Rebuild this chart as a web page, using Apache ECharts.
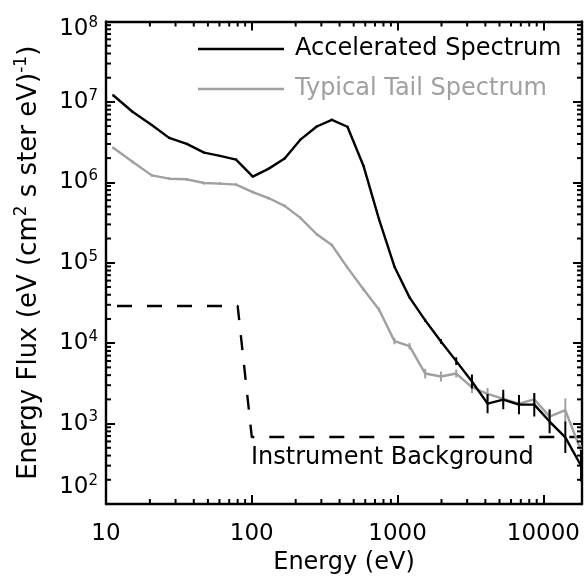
<!DOCTYPE html>
<html><head><meta charset="utf-8">
<script src="https://cdn.jsdelivr.net/npm/echarts@6/dist/echarts.min.js"></script>
<style>html,body{margin:0;padding:0;background:#fff}#c{width:585px;height:583px}</style>
</head><body><div id="c"></div>
<script>
// ---- data ----
const energies = [11.2, 15.2, 20.6, 27.1, 35.8, 47.1, 60.6, 78.0, 101.6, 130, 168, 214.5, 279, 354, 453, 583, 747, 952, 1207, 1547, 1983, 2525, 3236, 4141, 5305, 6800, 8660, 11030, 14140, 18120];
const acceleratedFlux = [1.21e7, 7.55e6, 5.17e6, 3.57e6, 3.01e6, 2.34e6, 2.13e6, 1.92e6, 1.18e6, 1.47e6, 1.98e6, 3.37e6, 4.95e6, 5.98e6, 4.91e6, 1.61e6, 3.44e5, 8.94e4, 3.71e4, 1.92e4, 1.05e4, 5.98e3, 3.34e3, 1.77e3, 1.99e3, 1.72e3, 1.72e3, 1.06e3, 675, 299];
const acceleratedErrFactor = [1.03, 1.03, 1.03, 1.03, 1.03, 1.03, 1.03, 1.03, 1.03, 1.03, 1.03, 1.03, 1.03, 1.03, 1.03, 1.03, 1.03, 1.03, 1.03, 1.05, 1.07, 1.12, 1.22, 1.32, 1.32, 1.32, 1.40, 1.40, 1.57, 1.57];
const tailFlux = [2.69e6, 1.80e6, 1.22e6, 1.11e6, 1.09e6, 9.8e5, 9.64e5, 9.37e5, 7.55e5, 6.38e5, 5.1e5, 3.64e5, 2.26e5, 1.66e5, 8.7e4, 4.69e4, 2.6e4, 1.06e4, 9.19e3, 4.19e3, 3.85e3, 4.19e3, 2.83e3, 2.34e3, 2.03e3, 1.77e3, 2.0e3, 1.22e3, 1.47e3, 455];
const tailErrFactor = [1.04, 1.04, 1.04, 1.04, 1.04, 1.04, 1.04, 1.04, 1.04, 1.04, 1.04, 1.04, 1.04, 1.04, 1.04, 1.05, 1.06, 1.09, 1.09, 1.15, 1.15, 1.12, 1.18, 1.18, 1.18, 1.18, 1.18, 1.25, 1.40, 1.18];
const backgroundEnergy = [10, 80, 100, 18400];
const backgroundFlux = [2.9e4, 2.9e4, 680, 680];
const xRange = [10, 18400];
const yRange = [1e2, 1e8];
const xMajorTicks = [10, 100, 1000, 10000];
const yMajorTicks = [1e2, 1e3, 1e4, 1e5, 1e6, 1e7, 1e8];
const seriesNames = ['Accelerated Spectrum', 'Typical Tail Spectrum', 'Instrument Background'];

// ---- build ----
const FONT = 'DejaVu Sans';
const BLACK = '#000000', GRAY = '#a0a0a0';
const LW = 2.4;
function minorTicks(majors, lo, hi) {
  const out = [];
  majors.forEach(m => { for (let k = 2; k <= 9; k++) { const v = m * k; if (v > lo && v < hi) out.push(v); } });
  return out;
}
const xMinor = minorTicks(xMajorTicks, xRange[0], xRange[1]);
const yMinor = minorTicks(yMajorTicks, yRange[0], yRange[1]);
const pair = (xs, ys) => xs.map((x, i) => [x, ys[i]]);
const errData = (xs, ys, f) => xs.map((x, i) => [x, ys[i] / f[i], ys[i] * f[i]]);

function errRender(color) {
  return function (params, api) {
    const a = api.coord([api.value(0), api.value(1)]);
    const b = api.coord([api.value(0), api.value(2)]);
    return { type: 'line', shape: { x1: a[0], y1: a[1], x2: b[0], y2: b[1] }, style: { stroke: color, lineWidth: 2 } };
  };
}
const MINOR = 5;
function xMinorRender(params, api) {
  const v = api.value(0);
  const b = api.coord([v, yRange[0]]), t = api.coord([v, yRange[1]]);
  return { type: 'group', children: [
    { type: 'line', shape: { x1: b[0], y1: b[1], x2: b[0], y2: b[1] - MINOR }, style: { stroke: BLACK, lineWidth: 2 } },
    { type: 'line', shape: { x1: t[0], y1: t[1], x2: t[0], y2: t[1] + MINOR }, style: { stroke: BLACK, lineWidth: 2 } }
  ]};
}
function yMinorRender(params, api) {
  const v = api.value(1);
  const l = api.coord([xRange[0], v]), r = api.coord([xRange[1], v]);
  return { type: 'group', children: [
    { type: 'line', shape: { x1: l[0], y1: l[1], x2: l[0] + MINOR, y2: l[1] }, style: { stroke: BLACK, lineWidth: 2 } },
    { type: 'line', shape: { x1: r[0], y1: r[1], x2: r[0] - MINOR, y2: r[1] }, style: { stroke: BLACK, lineWidth: 2 } }
  ]};
}

const axisLineStyle = { show: true, lineStyle: { color: BLACK, width: 2.4 } };
const majorTick = { show: true, inside: true, length: 9, lineStyle: { color: BLACK, width: 2 } };
const xAxisBase = { type: 'log', logBase: 10, min: xRange[0], max: xRange[1], axisLine: axisLineStyle, axisTick: majorTick, splitLine: { show: false } };
const yAxisBase = { type: 'log', logBase: 10, min: yRange[0], max: yRange[1], axisLine: axisLineStyle, axisTick: majorTick, splitLine: { show: false } };
const tb = { fontSize: 23, lineHeight: 26, fontFamily: FONT, color: BLACK, verticalAlign: 'middle' };
const ts = { fontSize: 15, lineHeight: 15, fontFamily: FONT, color: BLACK, verticalAlign: 'middle' };
const supRich = {
  nb: Object.assign({}, tb),
  ns: Object.assign({}, ts, { padding: [0, 0, 12, 0] }),
  tb: Object.assign({}, tb, { padding: [16, 0, 0, 0] }),
  ts: Object.assign({}, ts, { padding: [16, 0, 12, 0] }),
  mb: Object.assign({}, tb, { padding: [0, 0, 34, 0] }),
  ms: Object.assign({}, ts, { padding: [0, 0, 46, 0] })
};

const option = {
  animation: false,
  backgroundColor: '#ffffff',
  grid: { left: 106, right: 3, top: 12, bottom: 79, containLabel: false },
  legend: {
    orient: 'vertical', left: 193, top: 32, itemGap: 16, itemWidth: 86, itemHeight: 2.4, icon: 'rect',
    textStyle: { fontSize: 24, lineHeight: 24, fontFamily: FONT, padding: [0, 0, 0, 6] },
    data: [
      { name: seriesNames[0], textStyle: { color: BLACK } },
      { name: seriesNames[1], textStyle: { color: GRAY } }
    ],
    selectedMode: false
  },
  xAxis: [
    Object.assign({}, xAxisBase, {
      position: 'bottom',
      name: 'Energy (eV)', nameLocation: 'middle', nameGap: 44,
      nameTextStyle: { fontSize: 24, fontFamily: FONT, color: BLACK },
      axisLabel: { show: true, margin: 19, fontSize: 23, fontFamily: FONT, color: BLACK, showMaxLabel: false,
        formatter: v => String(Math.round(v)) }
    }),
    Object.assign({}, xAxisBase, { position: 'top', axisLabel: { show: false } })
  ],
  yAxis: [
    Object.assign({}, yAxisBase, {
      position: 'left',
      name: '{n|Energy Flux (eV (cm}{sup|2}{n| s ster eV)}{sup|-1}{n|)}', nameLocation: 'middle', nameGap: 62, nameRotate: 90,
      nameTextStyle: { fontSize: 26, fontFamily: FONT, color: BLACK,
        rich: {
          n: { fontSize: 26, lineHeight: 30, fontFamily: FONT, color: BLACK, verticalAlign: 'middle' },
          sup: { fontSize: 17, lineHeight: 17, fontFamily: FONT, color: BLACK, verticalAlign: 'middle', padding: [0, 0, 14, 0] }
        } },
      axisLabel: { show: true, margin: 8, fontFamily: FONT, color: BLACK, rich: supRich,
        formatter: v => { const e = Math.round(Math.log10(v)); const k = e === 8 ? 't' : (e === 2 ? 'm' : 'n'); return '{' + k + 'b|10}{' + k + 's|' + e + '}'; } }
    }),
    Object.assign({}, yAxisBase, { position: 'right', axisLabel: { show: false } })
  ],
  graphic: [
    { type: 'text', left: 251, top: 446, style: { text: seriesNames[2], fontSize: 24, fontFamily: FONT, fill: BLACK } }
  ],
  series: [
    { name: seriesNames[2], type: 'line', data: pair(backgroundEnergy, backgroundFlux), symbol: 'none', z: 2,
      lineStyle: { color: BLACK, width: LW, type: [15, 15], dashOffset: 19 }, itemStyle: { color: BLACK } },
    { name: seriesNames[1], type: 'line', data: pair(energies, tailFlux), symbol: 'none', z: 3,
      lineStyle: { color: GRAY, width: LW }, itemStyle: { color: GRAY } },
    { name: seriesNames[1] + ' err', type: 'custom', data: errData(energies, tailFlux, tailErrFactor), z: 3,
      renderItem: errRender(GRAY), clip: true, encode: { x: 0, y: [1, 2] } },
    { name: seriesNames[0], type: 'line', data: pair(energies, acceleratedFlux), symbol: 'none', z: 4,
      lineStyle: { color: BLACK, width: LW }, itemStyle: { color: BLACK } },
    { name: seriesNames[0] + ' err', type: 'custom', data: errData(energies, acceleratedFlux, acceleratedErrFactor), z: 4,
      renderItem: errRender(BLACK), clip: true, encode: { x: 0, y: [1, 2] } },
    { name: 'xminor', type: 'custom', data: xMinor.map(v => [v, yRange[0]]), renderItem: xMinorRender, clip: false, z: 5, silent: true },
    { name: 'yminor', type: 'custom', data: yMinor.map(v => [xRange[0], v]), renderItem: yMinorRender, clip: false, z: 5, silent: true }
  ]
};
const chart = echarts.init(document.getElementById('c'), null, { renderer: 'canvas' });
chart.setOption(option);
</script>
</body></html>
